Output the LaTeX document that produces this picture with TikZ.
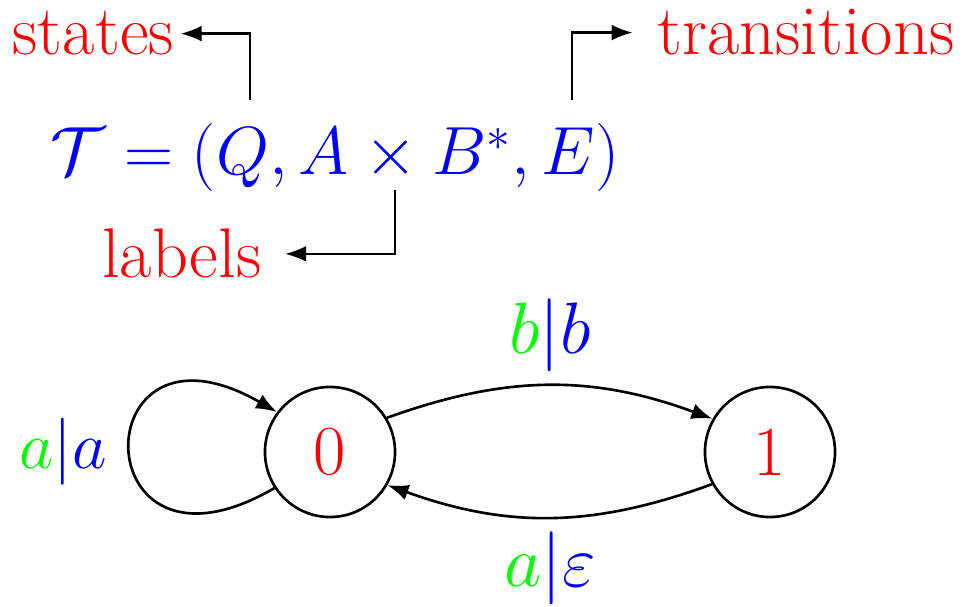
\documentclass[tikz,border=0pt]{standalone}
\usepackage{graphicx}
\usetikzlibrary{arrows.meta}
\begin{document}
\begin{tikzpicture}[x=0.01cm,y=-0.01cm,
  every node/.style={font=\fontsize{20}{24}\selectfont},
  txt/.style={text=red,inner sep=0pt},
  st/.style={draw,circle,minimum size=1.3cm,inner sep=0pt,line width=0.75pt,text=red},
  conn/.style={line width=0.75pt,-{Latex[length=6pt,width=4.5pt]}},
  lab/.style={inner sep=0pt}]
\useasboundingbox (0,0) rectangle (964,607);
% formula
\node[anchor=base,text=blue,inner sep=0pt] (f) at (335,175) {\scalebox{0.935}{$\mathcal{T} = (Q, A \times B^*, E)$}};
\node[txt,anchor=base west] (states) at (12,55) {states};
\node[txt,anchor=base east] (trans) at (955,55) {transitions};
\node[txt,anchor=base east] (labels) at (262,278) {labels};
\coordinate (cq) at (250,100);
\coordinate (ce) at (572,100);
\coordinate (ca) at (395,190);
\draw[conn,shorten >=0.06cm] (cq) |- (states.east);
\draw[conn,shorten >=0.24cm] (ce) |- (trans.west);
\draw[conn,shorten >=0.23cm] (ca) |- (labels.east);
% automaton
\node[st] (n0) at (330,452) {0};
\node[st] (n1) at (770,452) {1};
\draw[conn] (n0.213) .. controls (82,600) and (82,300) .. (n0.143);
\draw[conn] (n0.31) to[bend left=20] (n1.150);
\draw[conn] (n1.209) to[bend left=20] (n0.330);
\node[lab] (l1) at (550,335) {$\color{green}b\color{blue}|b$};
\node[lab] (l2) at (550,568) {$\color{green}a\color{blue}|\varepsilon$};
\node[lab] (l3) at (63,452) {\scalebox{0.92}{$\color{green}a\color{blue}|a$}};
\end{tikzpicture}
\end{document}
